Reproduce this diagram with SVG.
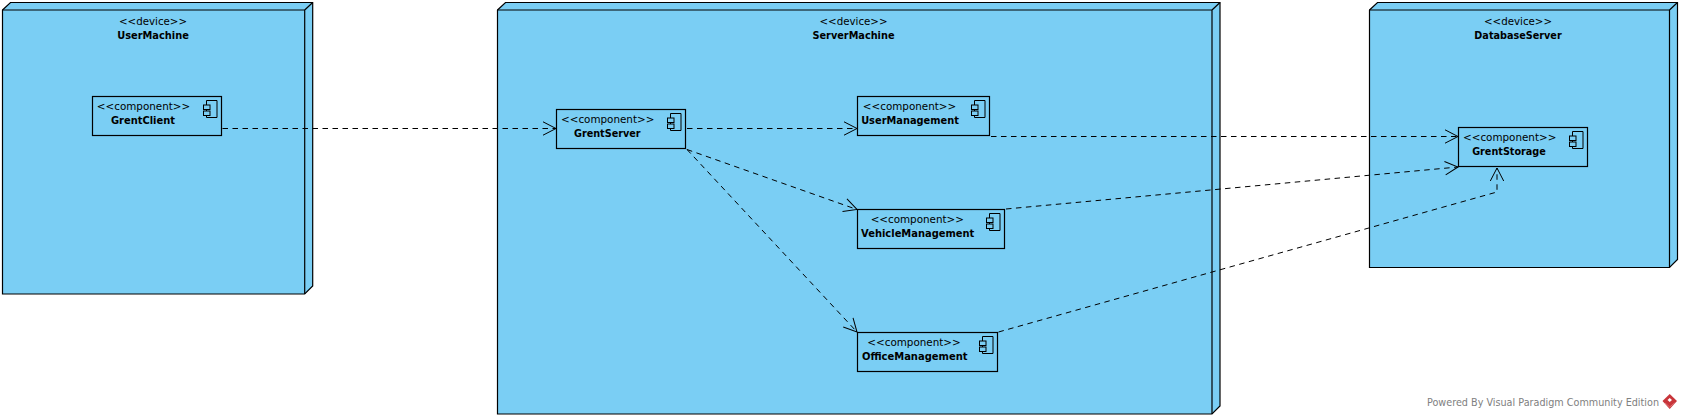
<svg xmlns="http://www.w3.org/2000/svg" width="1682" height="419" viewBox="0 0 1682 419">
<style>
.dev{fill:#7acef4;stroke:#000;stroke-width:1.2;stroke-linejoin:miter}
.cmp{fill:#7acef4;stroke:#000;stroke-width:1.2}
.ln{fill:#7acef4;stroke:#000;stroke-width:1}
.con{fill:none;stroke:#000;stroke-width:1;stroke-dasharray:5.5 4.5;marker-end:url(#open)}
text{font-family:"DejaVu Sans",sans-serif;fill:#000;text-anchor:middle}
.st{font-size:10.8px}
.nm{font-size:10.6px;font-weight:bold}
.ft{font-size:10.6px;fill:#808080;text-anchor:start}
</style>
<defs>
<marker id="open" markerUnits="userSpaceOnUse" viewBox="-14 -8 15 16" refX="0" refY="0" markerWidth="15" markerHeight="16" orient="auto">
<path d="M-13-6.700L0 0L-13 6.700" fill="none" stroke="#000" stroke-width="1"/>
</marker>
<g id="icon">
<path class="ln" d="M-15 4V21H-4.500V4Z"/>
<rect class="ln" x="-18" y="8.500" width="6.500" height="4.500"/>
<rect class="ln" x="-18" y="14.500" width="6.500" height="4.500"/>
</g>
</defs>
<rect width="1682" height="419" fill="#fff"/>
<g id="UserMachine">
<path class="dev" d="M2.500 10L10.500 2.500H312.700V286L304.700 294H2.500Z"/>
<path class="dev" style="fill:none" d="M2.500 10H304.700V294M304.700 10L312.700 2.500"/>
<text class="st" x="153" y="25" textLength="68" lengthAdjust="spacingAndGlyphs">&lt;&lt;device&gt;&gt;</text>
<text class="nm" x="153" y="39" textLength="71.700" lengthAdjust="spacingAndGlyphs">UserMachine</text>
</g>
<g id="ServerMachine">
<path class="dev" d="M497.500 10L505.500 2.500H1220V406L1212 414H497.500Z"/>
<path class="dev" style="fill:none" d="M497.500 10H1212V414M1212 10L1220 2.500"/>
<text class="st" x="853.500" y="25" textLength="68" lengthAdjust="spacingAndGlyphs">&lt;&lt;device&gt;&gt;</text>
<text class="nm" x="853.500" y="39" textLength="82" lengthAdjust="spacingAndGlyphs">ServerMachine</text>
</g>
<g id="DatabaseServer">
<path class="dev" d="M1369.500 10L1377.500 2.500H1677.500V259.500L1669.500 267.500H1369.500Z"/>
<path class="dev" style="fill:none" d="M1369.500 10H1669.500V267.500M1669.500 10L1677.500 2.500"/>
<text class="st" x="1518" y="25" textLength="68" lengthAdjust="spacingAndGlyphs">&lt;&lt;device&gt;&gt;</text>
<text class="nm" x="1518" y="39" textLength="87.300" lengthAdjust="spacingAndGlyphs">DatabaseServer</text>
</g>
<g id="GrentClient">
<rect class="cmp" x="92.500" y="96.500" width="129" height="39"/>
<use href="#icon" x="221.500" y="96.500"/>
<text class="st" x="143.500" y="110" textLength="93.300" lengthAdjust="spacingAndGlyphs">&lt;&lt;component&gt;&gt;</text>
<text class="nm" x="143" y="124" textLength="64" lengthAdjust="spacingAndGlyphs">GrentClient</text>
</g>
<g id="GrentServer">
<rect class="cmp" x="556.500" y="109.500" width="129" height="39"/>
<use href="#icon" x="685.500" y="109.500"/>
<text class="st" x="607.700" y="123" textLength="93.300" lengthAdjust="spacingAndGlyphs">&lt;&lt;component&gt;&gt;</text>
<text class="nm" x="607.300" y="137" textLength="66.700" lengthAdjust="spacingAndGlyphs">GrentServer</text>
</g>
<g id="UserManagement">
<rect class="cmp" x="857.500" y="96.500" width="132" height="39"/>
<use href="#icon" x="989.500" y="96.500"/>
<text class="st" x="909.500" y="110" textLength="93.300" lengthAdjust="spacingAndGlyphs">&lt;&lt;component&gt;&gt;</text>
<text class="nm" x="910" y="124" textLength="97.700" lengthAdjust="spacingAndGlyphs">UserManagement</text>
</g>
<g id="VehicleManagement">
<rect class="cmp" x="857.500" y="209.500" width="147" height="39"/>
<use href="#icon" x="1004.500" y="209.500"/>
<text class="st" x="917.300" y="223" textLength="93.300" lengthAdjust="spacingAndGlyphs">&lt;&lt;component&gt;&gt;</text>
<text class="nm" x="917.700" y="237" textLength="113.300" lengthAdjust="spacingAndGlyphs">VehicleManagement</text>
</g>
<g id="OfficeManagement">
<rect class="cmp" x="857.500" y="332.500" width="140" height="39"/>
<use href="#icon" x="997.500" y="332.500"/>
<text class="st" x="914" y="346" textLength="93.300" lengthAdjust="spacingAndGlyphs">&lt;&lt;component&gt;&gt;</text>
<text class="nm" x="914.800" y="360" textLength="105.700" lengthAdjust="spacingAndGlyphs">OfficeManagement</text>
</g>
<g id="GrentStorage">
<rect class="cmp" x="1458.500" y="127.500" width="129" height="39"/>
<use href="#icon" x="1587.500" y="127.500"/>
<text class="st" x="1509.700" y="141" textLength="93.300" lengthAdjust="spacingAndGlyphs">&lt;&lt;component&gt;&gt;</text>
<text class="nm" x="1509" y="155" textLength="73.700" lengthAdjust="spacingAndGlyphs">GrentStorage</text>
</g>
<g id="connectors">
<path class="con" d="M222.500 128.500H556"/>
<path class="con" d="M687 128.500H857"/>
<path class="con" d="M991 136.500H1458"/>
<path class="con" d="M1006 209L1458 167"/>
<path class="con" d="M687 149.500L857 209.500"/>
<path class="con" d="M687 149.500L857 332"/>
<path class="con" d="M998.500 332L1497 192V168"/>
</g>
<g id="footer">
<text class="ft" x="1427" y="406" textLength="232" lengthAdjust="spacingAndGlyphs">Powered By Visual Paradigm Community Edition</text>
<path d="M1669.700 394L1677 401L1669.700 409L1662.500 401Z" fill="#c8353a"/>
<path d="M1669.700 398L1672 400L1669.700 402L1667.500 400Z" fill="#fff"/>
<path d="M1665 403L1669.700 407L1674.500 403" fill="none" stroke="#e99" stroke-width=".6"/>
</g>
</svg>
